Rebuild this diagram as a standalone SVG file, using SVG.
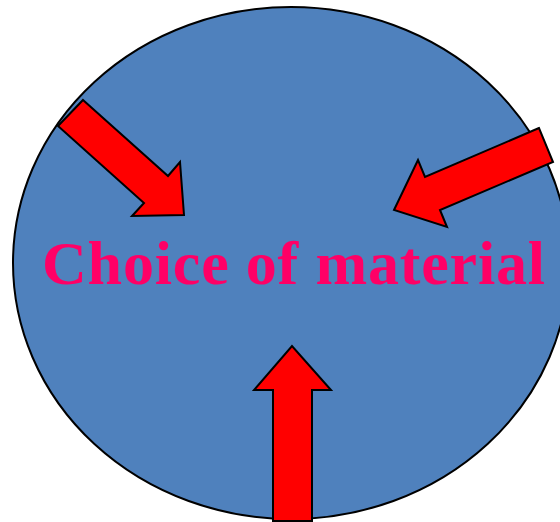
<svg xmlns="http://www.w3.org/2000/svg" width="560" height="522" viewBox="0 0 560 522">
<style>
.circle{fill:#4F81BD;stroke:#000;stroke-width:2}
.arrow{fill:#FF0000;stroke:#000;stroke-width:2;stroke-linejoin:miter}
.label{font-family:"Liberation Serif","Times New Roman",serif;font-weight:bold;font-size:62px;fill:#FF0066}
</style>
<rect width="560" height="522" fill="#fff"/>
<g id="circle">
<ellipse class="circle" cx="291" cy="263" rx="278" ry="256"/>
</g>
<g id="label">
<text class="label" x="42" y="284" textLength="503" lengthAdjust="spacing">Choice of  material</text>
</g>
<g id="connectors">
<polygon id="arrow-top-left" class="arrow" points="83,100 168,176 180,162 184,215 132,216 144,203 58,126"/>
<polygon id="arrow-top-right" class="arrow" points="539,128 425,177 418,160 394,210 447,227 440,210 553,162"/>
<polygon id="arrow-bottom" class="arrow" points="273,521 273,390 254,390 292,346 331,390 312,390 312,521"/>
</g>
</svg>
